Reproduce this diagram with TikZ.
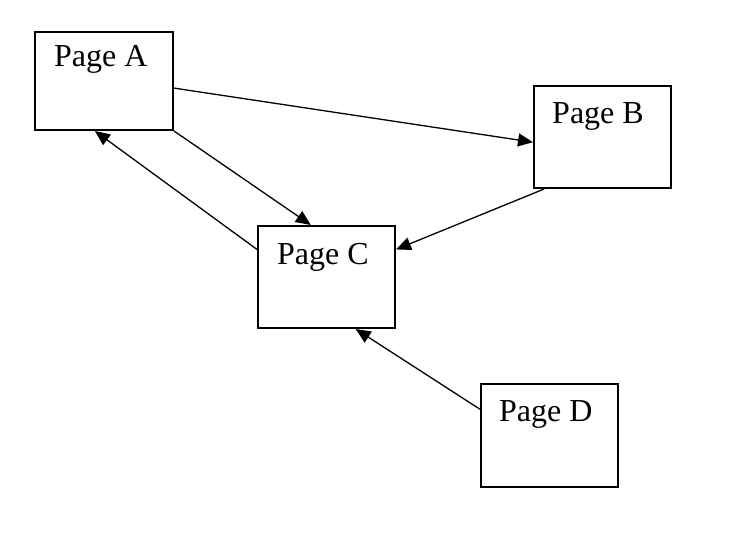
\documentclass[tikz,border=0pt]{standalone}
\usepackage{fontspec}
\setmainfont{Liberation Serif}
\usetikzlibrary{calc,arrows.meta}
\begin{document}
\begin{tikzpicture}[x=1pt,y=-1pt,
  page/.style={draw=black,line width=2pt,minimum width=137pt,minimum height=100pt,inner sep=0pt,fill=white},
  lbl/.style={anchor=base west,inner sep=0pt,font=\fontsize{32}{32}\selectfont},
  link/.style={draw=black,line width=1.3pt,-{Triangle[length=15pt,width=13pt]}}]
\useasboundingbox (0,0) rectangle (738,540);
\node[page,minimum width=138pt,minimum height=98pt] (A) at (104,81) {};
\node[page,minimum height=102pt] (B) at (602.5,137) {};
\node[page,minimum height=102pt] (C) at (326.5,277) {};
\node[page,minimum height=103pt] (D) at (549.5,435.5) {};
\node[lbl] (la) at ([xshift=20pt,yshift=-36pt]A.north west) {Page A};
\node[lbl] (lb) at ([xshift=19pt,yshift=-39pt]B.north west) {Page B};
\node[lbl] (lc) at ([xshift=20pt,yshift=-39pt]C.north west) {Page C};
\node[lbl] (ld) at ([xshift=19pt,yshift=-38pt]D.north west) {Page D};
\draw[link] ($(A.north east)!0.571!(A.south east)$) -- ($(B.north west)!0.55!(B.south west)$);
\draw[link] (A.south east) -- ($(C.north west)!0.387!(C.north east)$);
\draw[link] ($(C.north west)!0.235!(C.south west)$) -- ($(A.south west)!0.435!(A.south east)$);
\draw[link] ($(B.south west)!0.08!(B.south east)$) -- ($(C.north east)!0.235!(C.south east)$);
\draw[link] ($(D.north west)!0.25!(D.south west)$) -- ($(C.south west)!0.71!(C.south east)$);
\end{tikzpicture}
\end{document}
